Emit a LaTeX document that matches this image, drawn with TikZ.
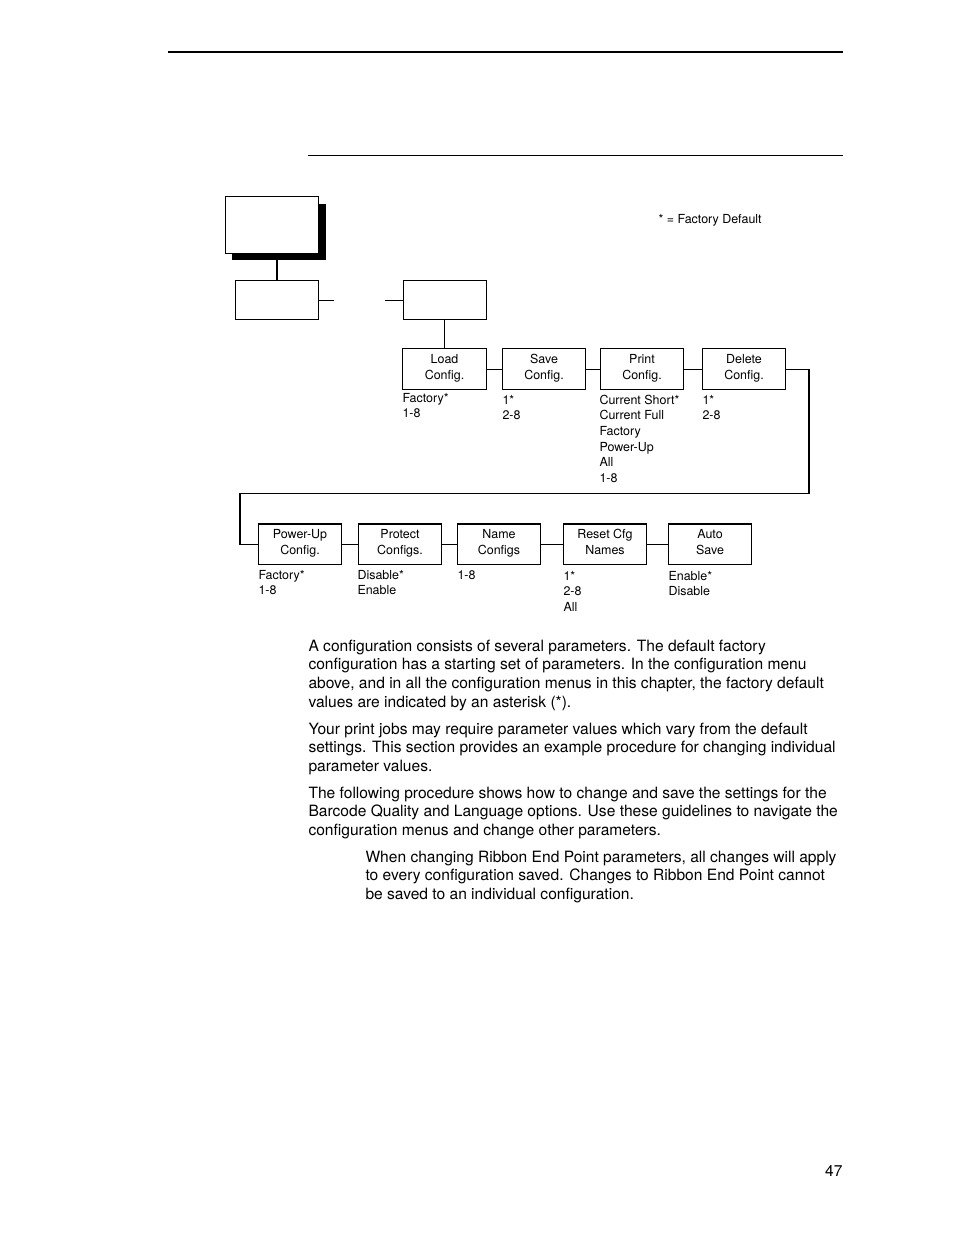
\documentclass[tikz,border=0pt]{standalone}
\usepackage{fontspec}
\setmainfont{TeX Gyre Heros}
\usetikzlibrary{shadows}
\begin{document}
\begin{tikzpicture}[x=0.642pt,y=-0.642pt,line width=0.65pt,
  menubox/.style={draw,fill=white,minimum width=53.9pt,minimum height=25.7pt,
    inner sep=0pt,align=center,text height=15.3pt,text depth=2pt,
    font=\fontsize{8}{10}\selectfont},
  blankbox/.style={draw,fill=white,minimum width=53.9pt,minimum height=25.1pt,inner sep=0pt},
  opts/.style={anchor=north west,inner sep=0pt,align=left,font=\fontsize{8}{10}\selectfont},
  para/.style={anchor=north west,inner sep=0pt,align=left,font=\fontsize{10}{12}\selectfont}]
 \useasboundingbox (0,0) rectangle (954,1235);
 % page rules
 \draw[line width=1.3pt] (168,52) -- (843,52);
 \draw (308,155) -- (843,155);
 % top of the menu tree
 \node[draw,fill=white,minimum width=60.3pt,minimum height=36pt,inner sep=0pt,
   drop shadow={shadow xshift=4.3pt,shadow yshift=-4.3pt,fill=black,opacity=1}] (top) at (272,225) {};
 \node[blankbox] (sub) at (277,300) {};
 \node[blankbox] (cfg) at (445,300) {};
 \coordinate (stubA) at (334,300);
 \coordinate (stubB) at (385,300);
 \draw (sub.north) -- (sub.north |- top.south);
 \draw (sub.east) -- (stubA);
 \draw (stubB) -- (cfg.west);
 \node[anchor=west,inner sep=0pt,font=\fontsize{8}{10}\selectfont] (legend) at (658,220.5) {* = Factory Default};
 % first row
 \node[menubox] (load) at (444.5,369) {Load\\Config.};
 \node[menubox] (save) at (544,369) {Save\\Config.};
 \node[menubox] (print) at (642,369) {Print\\Config.};
 \node[menubox] (delete) at (744,369) {Delete\\Config.};
 \draw (load.north |- cfg.south) -- (load.north);
 \draw (load) -- (save) -- (print) -- (delete);
 \node[opts] (loadv) at (402,392.5) {Factory*\\1-8};
 \node[opts] (savev) at (502,394.5) {1*\\2-8};
 \node[opts] (printv) at (599,394.5) {Current Short*\\Current Full\\Factory\\Power-Up\\All\\1-8};
 \node[opts] (deletev) at (702,394.5) {1*\\2-8};
 % second row
 \node[menubox] (powerup) at (300,544) {Power-Up\\Config.};
 \node[menubox] (protect) at (400,544) {Protect\\Configs.};
 \node[menubox] (name) at (499,544) {Name\\Configs};
 \node[menubox] (reset) at (605,544) {Reset Cfg\\Names};
 \node[menubox] (auto) at (710,544) {Auto\\Save};
 \coordinate (wrapR) at (809,493);
 \coordinate (wrapL) at (240,493);
 \draw (delete.east) -| (wrapR) -- (wrapL) |- (powerup.west);
 \draw (powerup) -- (protect) -- (name) -- (reset) -- (auto);
 \node[opts] (powerupv) at (258,569.5) {Factory*\\1-8};
 \node[opts] (protectv) at (357,569.5) {Disable*\\Enable};
 \node[opts] (namev) at (457,570.5) {1-8};
 \node[opts] (resetv) at (563,570.5) {1*\\2-8\\All};
 \node[opts] (autov) at (668,570.5) {Enable*\\Disable};
 % text
 \node[para] (p1) at (308,639.3) {A configuration consists of several parameters. The default factory\\
   configuration has a starting set of parameters. In the configuration menu\\
   above, and in all the configuration menus in this chapter, the factory default\\
   values are indicated by an asterisk (*).};
 \node[para] (p2) at (308,722.3) {Your print jobs may require parameter values which vary from the default\\
   settings. This section provides an example procedure for changing individual\\
   parameter values.};
 \node[para] (p3) at (308,786.3) {The following procedure shows how to change and save the settings for the\\
   Barcode Quality and Language options. Use these guidelines to navigate the\\
   configuration menus and change other parameters.};
 \node[para] (note) at (365,850.3) {When changing Ribbon End Point parameters, all changes will apply\\
   to every configuration saved. Changes to Ribbon End Point cannot\\
   be saved to an individual configuration.};
 \node[anchor=east,inner sep=0pt,font=\fontsize{10}{12}\selectfont] (pageno) at (843,1171) {47};
\end{tikzpicture}
\end{document}
